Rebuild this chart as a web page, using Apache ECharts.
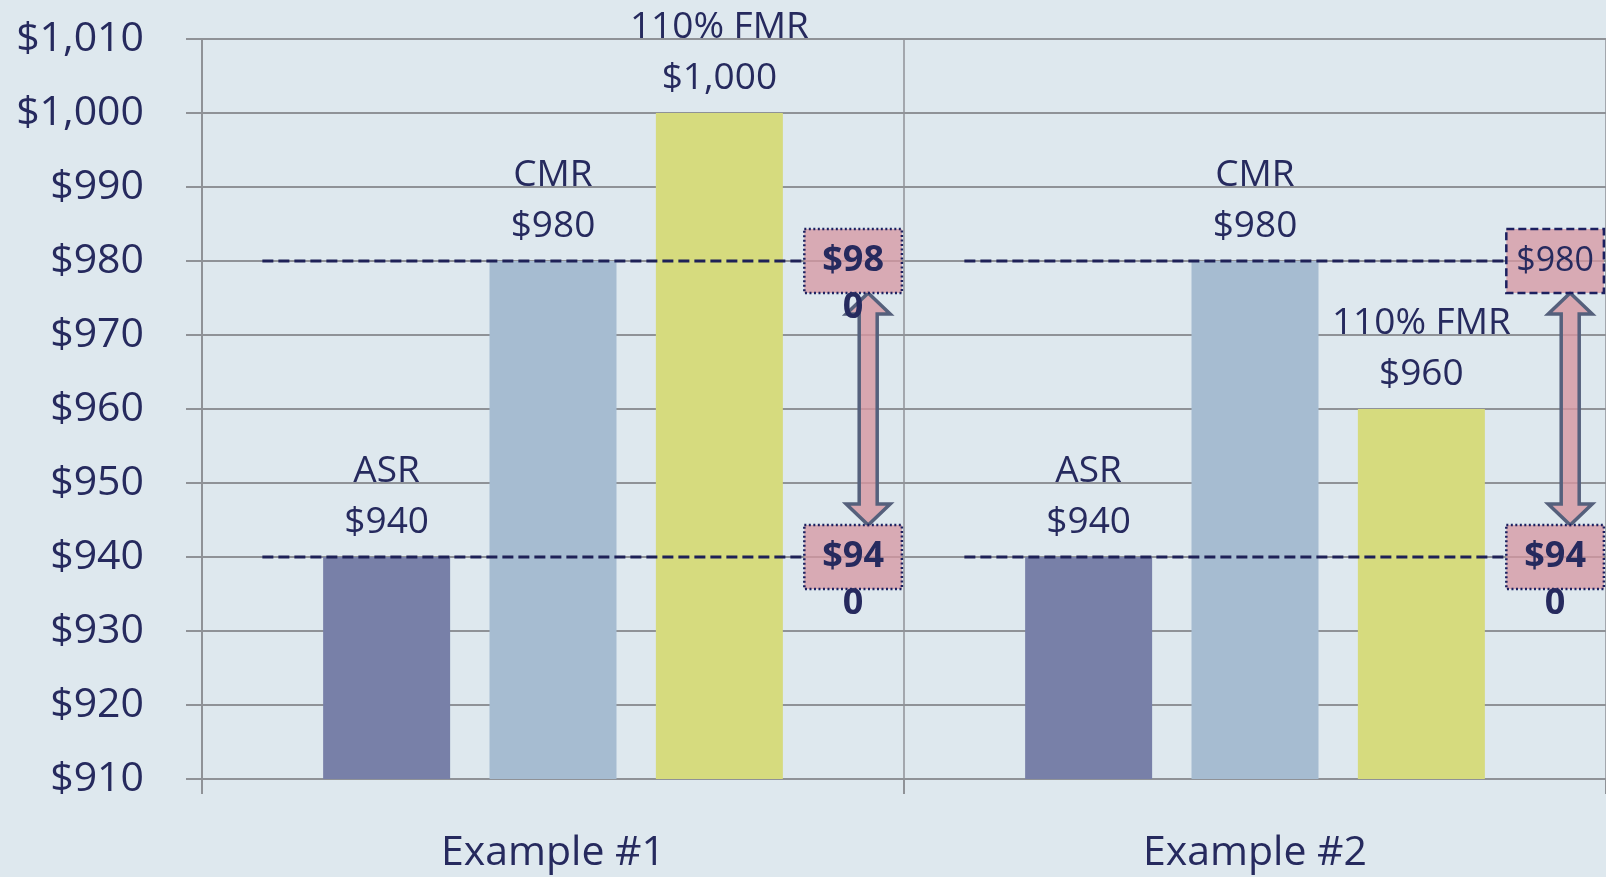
<!DOCTYPE html>
<html>
<head>
<meta charset="utf-8">
<script src="https://cdn.jsdelivr.net/npm/echarts@6/dist/echarts.min.js"></script>
<style>
  html, body { margin: 0; padding: 0; background: #dee8ee; }
  #chart { width: 1606px; height: 877px; }
</style>
</head>
<body>
<div id="chart"></div>
<script>
// data
const categories = ['Example #1', 'Example #2'];
const seriesNames = ['ASR', 'CMR', '110% FMR'];
const asrValues = [940, 940];
const cmrValues = [980, 980];
const fmrValues = [1000, 960];
const gapHigh = [980, 980];   // upper marker (CMR)
const gapLow = [940, 940];    // lower marker (ASR)
const yMin = 910, yMax = 1010, yStep = 10;

const navy = '#262a5e';
const font = 'Open Sans';

const chart = echarts.init(document.getElementById('chart'));

// dotted / dashed borders of the marker boxes per example: [upper, lower]
const boxBorders = [['dotted', 'dotted'], ['dashed', 'dotted']];

function renderGap(params, api) {
  const i = api.value(0);
  const hi = api.coord([i, api.value(1)]);
  const lo = api.coord([i, api.value(2)]);
  const w = api.size([1, 0])[0];
  const cx = hi[0];
  const lineX0 = cx - w * 0.414;
  const boxX = cx + w * 0.358;
  const boxW = w * 0.139;
  const boxH = 64;
  const ax = cx + w * 0.449;
  const y1 = hi[1] + boxH / 2, y2 = lo[1] - boxH / 2;
  const hw = 22, sw = 9, hh = 21;
  const children = [];

  // dashed reference lines
  [hi, lo].forEach(p => {
    children.push({
      type: 'line',
      shape: { x1: lineX0, y1: p[1], x2: boxX, y2: p[1] },
      style: { stroke: '#1e2157', lineWidth: 3, lineDash: [11, 5] }
    });
  });

  // double arrow
  children.push({
    type: 'polygon',
    shape: {
      points: [
        [ax, y1], [ax + hw, y1 + hh], [ax + sw, y1 + hh], [ax + sw, y2 - hh],
        [ax + hw, y2 - hh], [ax, y2], [ax - hw, y2 - hh], [ax - sw, y2 - hh],
        [ax - sw, y1 + hh], [ax - hw, y1 + hh]
      ]
    },
    style: { fill: 'rgba(214,150,160,0.8)', stroke: '#55607c', lineWidth: 3.5 }
  });

  // boxes with values
  [[hi, api.value(1)], [lo, api.value(2)]].forEach((pv, k) => {
    const p = pv[0];
    const dotted = boxBorders[i][k] === 'dotted';
    children.push({
      type: 'rect',
      shape: { x: boxX, y: p[1] - boxH / 2, width: boxW, height: boxH },
      style: {
        fill: 'rgba(214,150,160,0.75)',
        stroke: '#1c2060', lineWidth: 2.5,
        lineDash: dotted ? [2, 2.5] : [8, 4]
      }
    });
    children.push({
      type: 'text',
      style: {
        text: '$' + pv[1],
        x: boxX + boxW / 2,
        y: p[1] - 23.5,
        align: 'center',
        verticalAlign: 'top',
        lineHeight: 47,
        width: dotted ? 76 : 110,
        overflow: 'breakAll',
        fontFamily: font,
        fontSize: dotted ? 36 : 34,
        fontWeight: dotted ? 'bold' : 'normal',
        fill: navy
      }
    });
  });

  return { type: 'group', children: children };
}

const barLabel = {
  show: true,
  position: 'top',
  distance: 9,
  formatter: p => p.seriesName + '\n$' + p.value.toLocaleString('en-US'),
  fontFamily: font,
  fontSize: 37,
  lineHeight: 51,
  color: navy
};

const option = {
  backgroundColor: '#dee8ee',
  animation: false,
  grid: { left: 202, right: -2, top: 39, bottom: 98 },
  xAxis: {
    type: 'category',
    data: categories,
    axisLine: { show: true, lineStyle: { color: '#8f9297', width: 2 } },
    axisTick: { show: true, length: 15, lineStyle: { color: '#8f9297', width: 2 } },
    splitLine: { show: true, lineStyle: { color: '#8f9297', width: 1.5 } },
    axisLabel: { margin: 54, fontFamily: font, fontSize: 41, color: navy }
  },
  yAxis: {
    type: 'value',
    min: yMin, max: yMax, interval: yStep,
    axisLine: { show: true, lineStyle: { color: '#8f9297', width: 2 } },
    axisTick: { show: true, length: 16, lineStyle: { color: '#8f9297', width: 2 } },
    splitLine: { show: true, lineStyle: { color: '#8f9297', width: 2 } },
    axisLabel: {
      margin: 58,
      fontFamily: font, fontSize: 41, color: navy,
      formatter: v => '$' + v.toLocaleString('en-US')
    }
  },
  series: [
    { name: seriesNames[0], type: 'bar', data: asrValues, barWidth: 127, barGap: '31%',
      barCategoryGap: '35%', itemStyle: { color: '#7880a8' }, label: barLabel },
    { name: seriesNames[1], type: 'bar', data: cmrValues, barWidth: 127, barGap: '31%',
      itemStyle: { color: '#a6bcd1' }, label: barLabel },
    { name: seriesNames[2], type: 'bar', data: fmrValues, barWidth: 127, barGap: '31%',
      itemStyle: { color: '#d6db7e' }, label: barLabel },
    {
      type: 'custom',
      renderItem: renderGap,
      clip: false,
      z: 10,
      encode: { x: 0, y: [1, 2] },
      data: categories.map((c, i) => [i, gapHigh[i], gapLow[i]])
    }
  ]
};

chart.setOption(option);
</script>
</body>
</html>
